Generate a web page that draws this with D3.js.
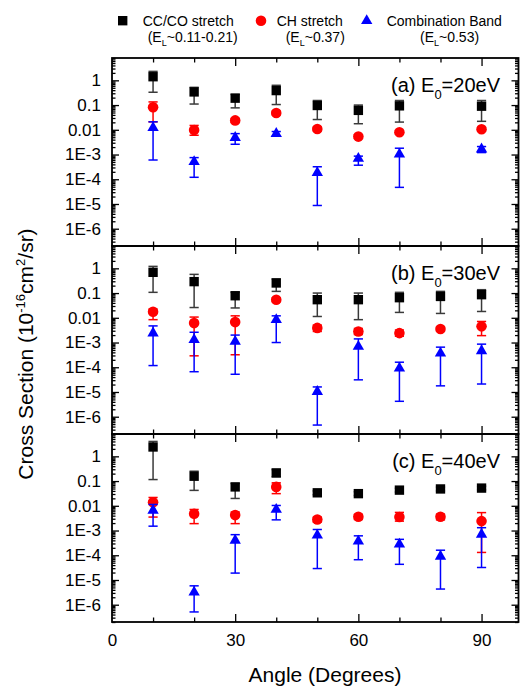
<!DOCTYPE html>
<html>
<head>
<meta charset="utf-8">
<script src="https://cdnjs.cloudflare.com/ajax/libs/d3/7.8.5/d3.min.js"></script>
<style>
    body { margin: 0; background: #fff; }
    svg { display: block; font-family: "Liberation Sans", Arial, sans-serif; }
</style>
</head>
<body>
<svg id="chart" width="521" height="686"></svg>
<script>

const angles = [10, 20, 30, 40, 50, 60, 70, 80, 90];
const xMajorTicks = [0, 30, 60, 90];
const xMinorTicks = [10, 20, 40, 50, 70, 80];
const yTickValues = [1, 0.1, 0.01, 1e-3, 1e-4, 1e-5, 1e-6];
const yTickLabels = ['1', '0.1', '0.01', '1E-3', '1E-4', '1E-5', '1E-6'];
const panelTags = ['(a)', '(b)', '(c)'];
const energies = ['20', '30', '40'];

// [value, low, high] for each angle, null = no point
const ccco20 = [[1.4, 0.33, 2.3], [0.34, 0.11, 0.52], [0.19, 0.077, 0.27], [0.385, 0.105, 0.63],
    [0.096, 0.026, 0.153], [0.061, 0.0176, 0.1], [0.093, 0.0205, 0.153], null, [0.09, 0.022, 0.153]];
const ch20 = [[0.082, 0.021, 0.134], [0.0098, 0.006, 0.015], [0.024, 0.02, 0.029], [0.048, 0.04, 0.057],
    [0.0107, 0.009, 0.0128], [0.0053, 0.0045, 0.0063], [0.0079, 0.0066, 0.0094], null, [0.0105, 0.0088, 0.0125]];
const comb20 = [[0.012, 6e-4, 0.021], [5.1e-4, 1.2e-4, 7.5e-4], [0.0048, 0.0026, 0.007], [0.007, 0.0055, 0.0085],
    [1.84e-4, 8.7e-6, 3.2e-4], [6.9e-4, 3.7e-4, 8.6e-4], [1.03e-3, 4.7e-5, 1.8e-3], null, [1.65e-3, 1.2e-3, 2.1e-3]];

const ccco30 = [[0.69, 0.107, 1.2], [0.29, 0.026, 0.57], [0.078, 0.025, 0.107], [0.256, 0.117, 0.37],
    [0.054, 0.0113, 0.1], [0.054, 0.0084, 0.1], [0.065, 0.0165, 0.107], [0.073, 0.015, 0.117], [0.086, 0.018, 0.137]];
const ch30 = [[0.0176, 0.0084, 0.0226], [0.0061, 2.9e-4, 0.0107], [0.0067, 3.2e-4, 0.012], [0.054, 0.045, 0.064],
    [0.0039, 0.0028, 0.005], [0.0028, 0.0021, 0.0037], [0.0024, 0.0018, 0.0032], [0.0035, 0.0029, 0.0042], [0.0045, 0.0019, 0.0071]];
const comb30 = [[0.0024, 1.17e-4, 0.0047], [0.00129, 6.6e-5, 0.0026], [0.0011, 5.2e-5, 0.002], [0.0083, 0.001, 0.012],
    [1.03e-5, 4.6e-7, 1.6e-5], [6.9e-4, 3.1e-5, 0.0014], [9.1e-5, 4.2e-6, 1.6e-4], [3.7e-4, 1.77e-5, 6.5e-4], [4.6e-4, 2.1e-5, 8.6e-4]];

const ccco40 = [[2.39, 0.115, 4.0], [0.157, 0.042, 0.25], [0.058, 0.0198, 0.08], [0.214, 0.15, 0.29],
    [0.0335, 0.028, 0.04], [0.031, 0.026, 0.037], [0.043, 0.036, 0.051], [0.048, 0.04, 0.057], [0.052, 0.044, 0.062]];
const ch40 = [[0.014, 0.0035, 0.0217], [0.0048, 0.0019, 0.0071], [0.0042, 0.0019, 0.0056], [0.058, 0.031, 0.085],
    [0.0028, 0.0022, 0.0035], [0.0036, 0.0028, 0.0045], [0.0035, 0.0024, 0.0054], [0.0036, 0.0027, 0.0046], [0.0024, 1.3e-4, 0.0053]];
const comb40 = [[0.0065, 0.0015, 0.0113], [3.2e-6, 5.1e-7, 5.8e-6], [4.0e-4, 1.9e-5, 6.8e-4], [0.0071, 0.0027, 0.0103],
    [6.4e-4, 2.9e-5, 1.1e-3], [3.7e-4, 6.6e-5, 6.1e-4], [2.8e-4, 4.3e-5, 4.4e-4], [9e-5, 4.3e-6, 1.6e-4], [7e-4, 3.2e-5, 1.3e-3]];

const seriesNames = ['CC/CO stretch', 'CH stretch', 'Combination Band'];
const seriesLoss = ['~0.11-0.21', '~0.37', '~0.53'];

const panelData = [
    [ccco20, ch20, comb20],
    [ccco30, ch30, comb30],
    [ccco40, ch40, comb40]
];

// layout
const plotLeft = 112, plotRight = 518.5;
const panelTop = [58, 246, 434], panelH = 188;
const yDomain = [2e-7, 8];

const styles = [
    {fill: '#000', bar: '#3a3a3a', symbol: d3.symbolSquare, size: 88},
    {fill: '#ff0000', bar: '#ff0000', symbol: d3.symbolCircle, size: 88},
    {fill: '#0000ff', bar: '#0000ff', symbol: d3.symbolTriangle, size: 56}
];

const svg = d3.select('#chart');

const x = d3.scaleLinear()
    .domain([0, 99])
    .range([plotLeft, plotRight]);

function isMajor(v) {
    return yTickValues.some(function (t) { return Math.abs(v / t - 1) < 1e-6; });
}

function tidy(g) {
    g.select('.domain').remove();
    g.selectAll('.tick line').attr('stroke', '#000').attr('stroke-width', 1.3);
    g.selectAll('.tick text').attr('fill', '#000');
}

panelData.forEach(function (data, i) {

    const top = panelTop[i], bottom = top + panelH;

    const y = d3.scaleLog()
        .domain(yDomain)
        .range([bottom, top]);

    const yMinor = y.ticks().filter(function (v) { return !isMajor(v); });

    const g = svg.append('g');

    // y axes, ticks pointing inward
    g.append('g')
        .attr('transform', 'translate(' + plotLeft + ',0)')
        .call(d3.axisLeft(y).tickValues(yMinor).tickSize(-3.5).tickFormat(''))
        .call(tidy);

    g.append('g')
        .attr('transform', 'translate(' + plotLeft + ',0)')
        .call(d3.axisLeft(y).tickValues(yTickValues).tickSize(-7).tickPadding(11)
            .tickFormat(function (d, k) { return yTickLabels[k]; }))
        .call(tidy)
        .selectAll('text')
        .style('font-size', '17px');

    g.append('g')
        .attr('transform', 'translate(' + plotRight + ',0)')
        .call(d3.axisRight(y).tickValues(yMinor).tickSize(-3.5).tickFormat(''))
        .call(tidy);

    g.append('g')
        .attr('transform', 'translate(' + plotRight + ',0)')
        .call(d3.axisRight(y).tickValues(yTickValues).tickSize(-7).tickFormat(''))
        .call(tidy);

    // x axes top and bottom
    g.append('g')
        .attr('transform', 'translate(0,' + top + ')')
        .call(d3.axisTop(x).tickValues(xMajorTicks.slice(1)).tickSize(-8).tickFormat(''))
        .call(tidy);
    g.append('g')
        .attr('transform', 'translate(0,' + top + ')')
        .call(d3.axisTop(x).tickValues(xMinorTicks).tickSize(-4.5).tickFormat(''))
        .call(tidy);

    g.append('g')
        .attr('transform', 'translate(0,' + bottom + ')')
        .call(d3.axisBottom(x).tickValues(xMinorTicks).tickSize(-4.5).tickFormat(''))
        .call(tidy);

    const xb = g.append('g')
        .attr('transform', 'translate(0,' + bottom + ')')
        .call(d3.axisBottom(x).tickValues(xMajorTicks).tickSize(-8).tickPadding(12)
            .tickFormat(i === 2 ? d3.format('d') : ''))
        .call(tidy);
    xb.selectAll('text').style('font-size', '17px');
    xb.selectAll('.tick').filter(function (d) { return d === 0; }).select('line').remove();

    // frame
    g.append('rect')
        .attr('x', plotLeft)
        .attr('y', top)
        .attr('width', plotRight - plotLeft)
        .attr('height', panelH)
        .attr('fill', 'none')
        .attr('stroke', '#000')
        .attr('stroke-width', 1.8);

    // series: error bars then symbols
    data.forEach(function (values, s) {
        const st = styles[s];
        const pts = values
            .map(function (v, k) { return v && {angle: angles[k], v: v[0], lo: v[1], hi: v[2]}; })
            .filter(Boolean);

        const sg = g.append('g');

        const bars = sg.selectAll('g.err')
            .data(pts)
            .enter()
            .append('g')
            .attr('class', 'err')
            .attr('stroke', st.bar)
            .attr('stroke-width', 1.5);

        bars.append('line')
            .attr('x1', function (d) { return x(d.angle); })
            .attr('x2', function (d) { return x(d.angle); })
            .attr('y1', function (d) { return y(d.lo); })
            .attr('y2', function (d) { return y(d.hi); });

        ['lo', 'hi'].forEach(function (key) {
            bars.append('line')
                .attr('x1', function (d) { return x(d.angle) - 4.6; })
                .attr('x2', function (d) { return x(d.angle) + 4.6; })
                .attr('y1', function (d) { return y(d[key]); })
                .attr('y2', function (d) { return y(d[key]); });
        });

        sg.selectAll('path.mark')
            .data(pts)
            .enter()
            .append('path')
            .attr('class', 'mark')
            .attr('d', d3.symbol().type(st.symbol).size(st.size))
            .attr('transform', function (d) {
                return 'translate(' + x(d.angle) + ',' + y(d.v) + ')';
            })
            .attr('fill', st.fill);
    });

    // panel label
    const label = g.append('text')
        .attr('x', 500)
        .attr('y', top + 34)
        .attr('text-anchor', 'end')
        .style('font-size', '20px');
    label.append('tspan').text(panelTags[i] + ' E');
    label.append('tspan').attr('dy', 7).style('font-size', '13px').text('0');
    label.append('tspan').attr('dy', -7).text('=' + energies[i] + 'eV');
});

// legend
const legendX = [122.7, 261, 366.7];
const legendTextX = [142.7, 276.7, 386.7];
const legendSubX = [147.7, 285.7, 420];

const legend = svg.append('g').style('font-size', '14px');

seriesNames.forEach(function (name, s) {
    legend.append('path')
        .attr('d', d3.symbol().type(styles[s].symbol).size(styles[s].size))
        .attr('transform', 'translate(' + legendX[s] + ',20.7)')
        .attr('fill', styles[s].fill);

    legend.append('text')
        .attr('x', legendTextX[s])
        .attr('y', 25.5)
        .text(name);

    const sub = legend.append('text')
        .attr('x', legendSubX[s])
        .attr('y', 42);
    sub.append('tspan').text('(E');
    sub.append('tspan').attr('dy', 4).style('font-size', '9px').text('L');
    sub.append('tspan').attr('dy', -4).text(seriesLoss[s] + ')');
});

// axis titles
svg.append('text')
    .attr('x', 325)
    .attr('y', 682)
    .attr('text-anchor', 'middle')
    .style('font-size', '21px')
    .text('Angle (Degrees)');

const yTitle = svg.append('text')
    .attr('transform', 'translate(33,354) rotate(-90)')
    .attr('text-anchor', 'middle')
    .style('font-size', '21px');
yTitle.append('tspan').text('Cross Section (10');
yTitle.append('tspan').attr('dy', -8).style('font-size', '13px').text('-16');
yTitle.append('tspan').attr('dy', 8).text('cm');
yTitle.append('tspan').attr('dy', -8).style('font-size', '13px').text('2');
yTitle.append('tspan').attr('dy', 8).text('/sr)');

</script>
</body>
</html>
